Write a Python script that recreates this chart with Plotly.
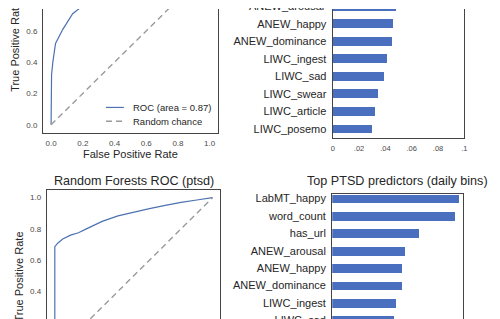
import plotly.graph_objects as go

# ---------------- data ----------------
# top-left ROC curve (visible part, tail estimated)
roc1_fpr = [0.0, 0.003, 0.011, 0.028, 0.074, 0.136, 0.174, 0.25, 0.40, 0.60, 0.80, 1.0]
roc1_tpr = [0.0, 0.32, 0.40, 0.52, 0.61, 0.71, 0.74, 0.79, 0.87, 0.93, 0.97, 1.0]
roc1_label = "ROC (area = 0.87)"

# bottom-left ROC curve: Random Forests ROC (ptsd)
roc2_fpr = [0.0, 0.0, 0.02, 0.05, 0.10, 0.15, 0.20, 0.25, 0.30, 0.40, 0.50, 0.60, 0.70, 0.80, 0.90, 1.0]
roc2_tpr = [0.0, 0.686, 0.71, 0.735, 0.76, 0.775, 0.80, 0.825, 0.848, 0.883, 0.908, 0.93, 0.95, 0.97, 0.985, 1.0]

chance_x = [0.0, 1.0]
chance_y = [0.0, 1.0]

# top-right feature importances (visible bars)
bars1_names = ["ANEW_arousal", "ANEW_happy", "ANEW_dominance", "LIWC_ingest",
               "LIWC_sad", "LIWC_swear", "LIWC_article", "LIWC_posemo"]
bars1_vals = [0.0476, 0.0456, 0.0451, 0.0411, 0.0386, 0.0343, 0.0318, 0.0296]

# bottom-right: Top PTSD predictors (daily bins) (visible bars)
bars2_names = ["LabMT_happy", "word_count", "has_url", "ANEW_arousal",
               "ANEW_happy", "ANEW_dominance", "LIWC_ingest", "LIWC_sad"]
bars2_vals = [0.0968, 0.0945, 0.0663, 0.0559, 0.0534, 0.0534, 0.0489, 0.0473]

roc_ticks = [0.0, 0.2, 0.4, 0.6, 0.8, 1.0]
bar_ticks = [0, 0.02, 0.04, 0.06, 0.08, 0.1]
bar_ticktext = ["0", ".02", ".04", ".06", ".08", ".1"]

title_bl = "Random Forests ROC (ptsd)"
title_br = "Top PTSD predictors (daily bins)"
xlab = "False Positive Rate"
ylab = "True Positive Rate"

# ---------------- style ----------------
W, H = 500, 319
FONT = "Arial, 'Liberation Sans', sans-serif"
BLUE_LINE = "#4C72B0"
BLUE_BAR = "#4A6FBE"
GREY = "#9a9a9a"
FRAME = "#444444"
TXT = "#262626"
TICK = "#4a4a4a"


def px(x):
    return x / W


def py(y):
    return 1 - y / H


fig = go.Figure()

# top-left ROC
fig.add_trace(go.Scatter(x=roc1_fpr, y=roc1_tpr, mode="lines", xaxis="x", yaxis="y",
                         line=dict(color=BLUE_LINE, width=1.2), showlegend=False))
fig.add_trace(go.Scatter(x=chance_x, y=chance_y, mode="lines", xaxis="x", yaxis="y",
                         line=dict(color=GREY, width=1.4, dash="6px,4px"), showlegend=False))
# top-right bars
fig.add_trace(go.Bar(x=bars1_vals, y=bars1_names, orientation="h", xaxis="x2", yaxis="y2",
                     marker=dict(color=BLUE_BAR, line=dict(width=0)), width=0.5, showlegend=False))
# bottom-left ROC
fig.add_trace(go.Scatter(x=roc2_fpr, y=roc2_tpr, mode="lines", xaxis="x3", yaxis="y3",
                         line=dict(color=BLUE_LINE, width=1.2), showlegend=False))
fig.add_trace(go.Scatter(x=chance_x, y=chance_y, mode="lines", xaxis="x3", yaxis="y3",
                         line=dict(color=GREY, width=1.4, dash="6px,4px"), showlegend=False))
# bottom-right bars
fig.add_trace(go.Bar(x=bars2_vals, y=bars2_names, orientation="h", xaxis="x4", yaxis="y4",
                     marker=dict(color=BLUE_BAR, line=dict(width=0)), width=0.5, showlegend=False))

tickfont_roc = dict(family=FONT, size=8, color=TICK)
tickfont_bar = dict(family=FONT, size=7.5, color=TICK)
catfont = dict(family=FONT, size=11, color=TXT)

common = dict(showgrid=False, zeroline=False, linecolor=FRAME, linewidth=1.3,
              ticks="outside", tickcolor="rgba(0,0,0,0)", ticklen=3)

fig.update_layout(
    width=W, height=H,
    margin=dict(l=0, r=0, t=0, b=0),
    paper_bgcolor="white", plot_bgcolor="white",
    font=dict(family=FONT, color=TXT),
    showlegend=False,
    bargap=0,
    # top-left
    xaxis=dict(domain=[px(33.5), px(209.7)], range=[-0.05, 1.05], anchor="y",
               showline=True, mirror=False, tickvals=roc_ticks, tickformat=".1f",
               tickfont=tickfont_roc, **common),
    yaxis=dict(domain=[py(125.5), 1.0], range=[-0.05, 0.74], anchor="x",
               showline=True, mirror=True, tickvals=roc_ticks, tickformat=".1f",
               tickfont=tickfont_roc, ticklabeloverflow="allow", **common),
    # top-right
    xaxis2=dict(domain=[px(326), px(459)], range=[0, 0.1], anchor="y2",
                showline=True, mirror=False, tickvals=bar_ticks, ticktext=bar_ticktext,
                tickfont=tickfont_bar, **common),
    yaxis2=dict(domain=[py(130.7), 1.0], range=[7.5, 0.157], anchor="x2", type="category",
                showline=True, mirror=True, tickfont=catfont, ticklabeloverflow="allow", **common),
    # bottom-left
    xaxis3=dict(domain=[px(37.3), px(212.6)], range=[-0.05, 1.05], anchor="y3", side="top",
                showline=True, mirror=False, showticklabels=False, **common),
    yaxis3=dict(domain=[0.0, py(183.7)], range=[0.198, 1.05], anchor="x3",
                showline=True, mirror=True, tickvals=roc_ticks, tickformat=".1f",
                tickfont=tickfont_roc, ticklabeloverflow="allow", **common),
    # bottom-right
    xaxis4=dict(domain=[px(325.5), px(457.5)], range=[0, 0.1], anchor="y4", side="top",
                showline=True, mirror=False, showticklabels=False, **common),
    yaxis4=dict(domain=[0.0, py(187.5)], range=[7.15, -0.28], anchor="x4", type="category",
                showline=True, mirror=True, tickfont=catfont, ticklabeloverflow="allow", **common),
)

ann = []
# axis titles
ann.append(dict(text=xlab, x=px(121.6), y=py(147.5), xref="paper", yref="paper",
                showarrow=False, font=dict(family=FONT, size=11, color=TXT),
                xanchor="center", yanchor="middle"))
ann.append(dict(text=ylab, x=px(5.5), y=py(38), xref="paper", yref="paper", textangle=-90,
                showarrow=False, font=dict(family=FONT, size=11, color=TXT),
                xanchor="center", yanchor="middle"))
ann.append(dict(text=ylab, x=px(9.5), y=py(271.4), xref="paper", yref="paper", textangle=-90,
                showarrow=False, font=dict(family=FONT, size=11, color=TXT),
                xanchor="center", yanchor="middle"))
# subplot titles
ann.append(dict(text=title_bl, x=px(125), y=py(175), xref="paper", yref="paper",
                showarrow=False, font=dict(family=FONT, size=12.6, color=TXT),
                xanchor="center", yanchor="middle"))
ann.append(dict(text=title_br, x=px(391.5), y=py(175), xref="paper", yref="paper",
                showarrow=False, font=dict(family=FONT, size=12.6, color=TXT),
                xanchor="center", yanchor="middle"))
# category label of the top-right bar that sits just above the picture's top edge
ann.append(dict(text=bars1_names[0], x=px(319.5), y=py(-2.8), xref="paper", yref="paper",
                showarrow=False, font=catfont, xanchor="right", yanchor="middle"))
# legend (top-left panel)
ann.append(dict(text=roc1_label, x=px(122.5), y=py(100), xref="paper", yref="paper",
                showarrow=False, font=dict(family=FONT, size=9.5, color=TXT),
                xanchor="left", yanchor="middle"))
ann.append(dict(text="Random chance", x=px(122.5), y=py(114), xref="paper", yref="paper",
                showarrow=False, font=dict(family=FONT, size=9.5, color=TXT),
                xanchor="left", yanchor="middle"))
fig.update_layout(annotations=ann)

fig.update_layout(shapes=[
    dict(type="line", xref="paper", yref="paper", x0=px(97), x1=px(115), y0=py(100), y1=py(100),
         line=dict(color=BLUE_LINE, width=1.2)),
    dict(type="line", xref="paper", yref="paper", x0=px(97), x1=px(115), y0=py(114), y1=py(114),
         line=dict(color=GREY, width=1.4, dash="6px,4px")),
])

fig.write_html("out.html")
